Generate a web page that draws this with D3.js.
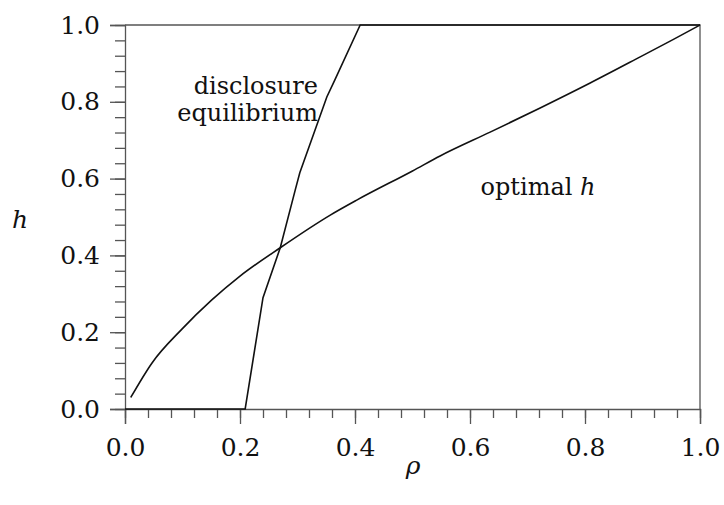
<!DOCTYPE html>
<html>
<head>
<meta charset="utf-8">
<script src="https://cdn.jsdelivr.net/npm/d3@7"></script>
<style>
  body { margin: 0; background: #fff; }
  text { font-family: "DejaVu Serif", "Liberation Serif", serif; fill: #111; }
</style>
</head>
<body>
<div id="chart"></div>
<script>
// Data: [rho, h]
const optimalH = [
  [0.01, 0.03], [0.047, 0.12], [0.099, 0.208], [0.151, 0.284], [0.2, 0.346],
  [0.27, 0.42], [0.357, 0.505], [0.403, 0.544], [0.5, 0.62], [0.548, 0.659],
  [0.635, 0.721], [0.722, 0.784], [0.809, 0.849], [0.896, 0.917], [0.953, 0.962],
  [1.0, 1.0]
];
const disclosure = [
  [0.0, 0.0], [0.209, 0.0], [0.24, 0.29], [0.27, 0.42], [0.296, 0.57],
  [0.304, 0.615], [0.351, 0.8125], [0.365, 0.857], [0.409, 1.0], [1.0, 1.0]
];
const majorTicks = [0, 0.2, 0.4, 0.6, 0.8, 1.0];
const minorTicks = d3.range(0, 26).map(i => i * 0.04);

const width = 724, height = 505;
const x = d3.scaleLinear().domain([0, 1]).range([125, 700]);
const y = d3.scaleLinear().domain([0, 1]).range([409, 25]);

const svg = d3.select('#chart').append('svg')
    .attr('width', width)
    .attr('height', height);

const axisColor = '#555';

// Minor ticks (no labels)
svg.append('g')
    .attr('transform', `translate(0,${y(0)})`)
    .call(d3.axisBottom(x).tickValues(minorTicks).tickSize(9).tickFormat(''))
    .call(g => g.select('.domain').remove());
svg.append('g')
    .attr('transform', `translate(${x(0)},0)`)
    .call(d3.axisLeft(y).tickValues(minorTicks).tickSize(10).tickFormat(''))
    .call(g => g.select('.domain').remove());

// Major ticks with labels
svg.append('g')
    .attr('transform', `translate(0,${y(0)})`)
    .call(d3.axisBottom(x).tickValues(majorTicks).tickSize(15).tickPadding(14).tickFormat(d3.format('.1f')));
svg.append('g')
    .attr('transform', `translate(${x(0)},0)`)
    .call(d3.axisLeft(y).tickValues(majorTicks).tickSize(15).tickPadding(10).tickFormat(d3.format('.1f')));

svg.selectAll('.tick line').attr('stroke', axisColor).attr('stroke-width', 1.3);
svg.selectAll('.domain').attr('stroke', axisColor).attr('stroke-width', 1.3);
svg.selectAll('.tick text')
    .style('font-family', '"DejaVu Serif", serif')
    .style('font-size', '25px')
    .attr('fill', '#111');

// Frame: top and right
svg.append('path')
    .attr('d', `M${x(0)},${y(1)} H${x(1)} V${y(0)}`)
    .attr('fill', 'none')
    .attr('stroke', axisColor)
    .attr('stroke-width', 1.3);

// Curves
const smooth = d3.line().x(d => x(d[0])).y(d => y(d[1])).curve(d3.curveMonotoneX);
const line = d3.line().x(d => x(d[0])).y(d => y(d[1]));
svg.append('path')
    .datum(optimalH)
    .attr('d', smooth)
    .attr('fill', 'none')
    .attr('stroke', '#111')
    .attr('stroke-width', 1.6);
svg.append('path')
    .datum(disclosure)
    .attr('d', line)
    .attr('fill', 'none')
    .attr('stroke', '#111')
    .attr('stroke-width', 1.6);

// Labels
svg.append('text')
    .attr('x', 318).attr('y', 94)
    .attr('text-anchor', 'end')
    .style('font-size', '24px')
    .text('disclosure');
svg.append('text')
    .attr('x', 318).attr('y', 121)
    .attr('text-anchor', 'end')
    .style('font-size', '24px')
    .text('equilibrium');

const opt = svg.append('text')
    .attr('x', 538).attr('y', 195)
    .attr('text-anchor', 'middle')
    .style('font-size', '24px');
opt.append('tspan').text('optimal ');
opt.append('tspan').style('font-style', 'italic').text('h');

svg.append('text')
    .attr('x', 20).attr('y', 228)
    .attr('text-anchor', 'middle')
    .style('font-size', '25px')
    .style('font-style', 'italic')
    .text('h');

svg.append('text')
    .attr('x', 413).attr('y', 474)
    .attr('text-anchor', 'middle')
    .style('font-size', '25px')
    .style('font-style', 'italic')
    .text('ρ');
</script>
</body>
</html>
